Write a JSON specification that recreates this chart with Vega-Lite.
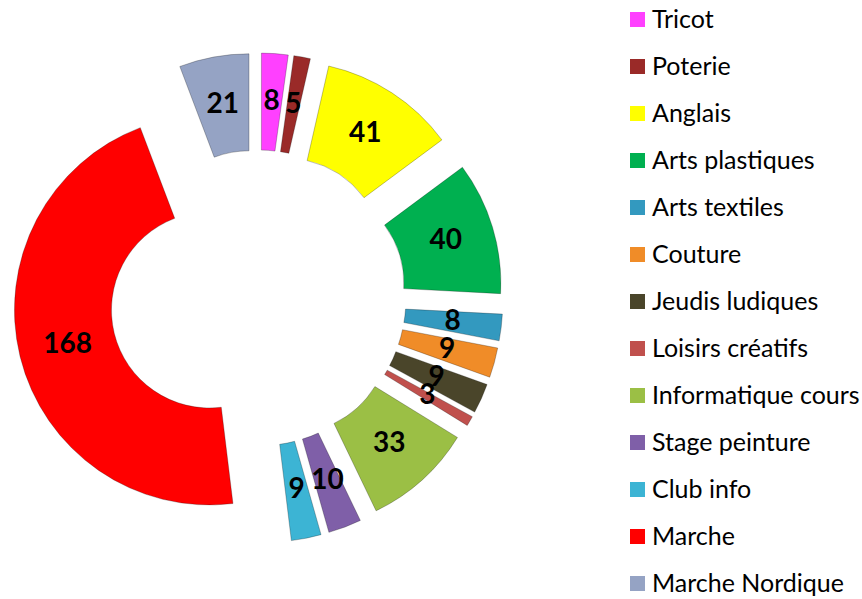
{
  "$schema": "https://vega.github.io/schema/vega-lite/v6.json",
  "width": 862,
  "height": 599,
  "padding": 0,
  "autosize": {"type": "none"},
  "background": "white",
  "config": {"view": {"stroke": null}, "font": "Lato"},
  "data": {
    "values": [
      {"activite": "Tricot", "n": 8},
      {"activite": "Poterie", "n": 5},
      {"activite": "Anglais", "n": 41},
      {"activite": "Arts plastiques", "n": 40},
      {"activite": "Arts textiles", "n": 8},
      {"activite": "Couture", "n": 9},
      {"activite": "Jeudis ludiques", "n": 9},
      {"activite": "Loisirs créatifs", "n": 3},
      {"activite": "Informatique cours", "n": 33},
      {"activite": "Stage peinture", "n": 10},
      {"activite": "Club info", "n": 9},
      {"activite": "Marche", "n": 168},
      {"activite": "Marche Nordique", "n": 21}
    ]
  },
  "transform": [
    {"window": [{"op": "sum", "field": "n", "as": "fin"}], "frame": [null, 0]},
    {"joinaggregate": [{"op": "sum", "field": "n", "as": "total"}]},
    {"calculate": "(datum.fin - datum.n) / datum.total", "as": "a0"},
    {"calculate": "datum.fin / datum.total", "as": "a1"},
    {"calculate": "(datum.fin - datum.n / 2) / datum.total", "as": "am"},
    {"calculate": "sin(2 * PI * datum.am)", "as": "dx"},
    {"calculate": "cos(2 * PI * datum.am)", "as": "dy"}
  ],
  "encoding": {
    "x": {"field": "dx", "type": "quantitative", "scale": {"domain": [-5.16, 12.08], "nice": false, "zero": false}, "axis": null},
    "y": {"field": "dy", "type": "quantitative", "scale": {"domain": [-6.02, 5.96], "nice": false, "zero": false}, "axis": null}
  },
  "layer": [
    {
      "mark": {"type": "arc", "innerRadius": 98, "outerRadius": 195, "stroke": "#000000", "strokeOpacity": 0.25, "strokeWidth": 1},
      "encoding": {
        "theta": {"field": "a0", "type": "quantitative", "stack": null, "scale": {"domain": [0, 1], "nice": false, "zero": false}},
        "theta2": {"field": "a1"},
        "color": {
          "field": "activite",
          "type": "nominal",
          "scale": {
            "domain": ["Tricot", "Poterie", "Anglais", "Arts plastiques", "Arts textiles", "Couture", "Jeudis ludiques", "Loisirs créatifs", "Informatique cours", "Stage peinture", "Club info", "Marche", "Marche Nordique"],
            "range": ["#FF40FF", "#9A2A28", "#FFFF00", "#00B050", "#3399BF", "#F08C28", "#4A452A", "#C0504D", "#9BBF45", "#7F5FA8", "#3CB4D4", "#FF0000", "#95A3C4"]
          },
          "legend": {
            "orient": "none",
            "legendX": 625,
            "legendY": 7,
            "title": null,
            "symbolType": "square",
            "symbolSize": 225,
            "symbolStrokeWidth": 0,
            "symbolOpacity": 1,
            "labelFontSize": 25,
            "labelFont": "Lato",
            "labelColor": "#000000",
            "labelOffset": 2,
            "labelLimit": 0,
            "rowPadding": 21
          }
        }
      }
    },
    {
      "mark": {"type": "text", "radius": 146, "fontSize": 28, "fontWeight": "bold", "font": "Lato", "color": "#000000"},
      "encoding": {
        "theta": {"field": "am", "type": "quantitative", "stack": null},
        "text": {"field": "n", "type": "quantitative"}
      }
    }
  ]
}
